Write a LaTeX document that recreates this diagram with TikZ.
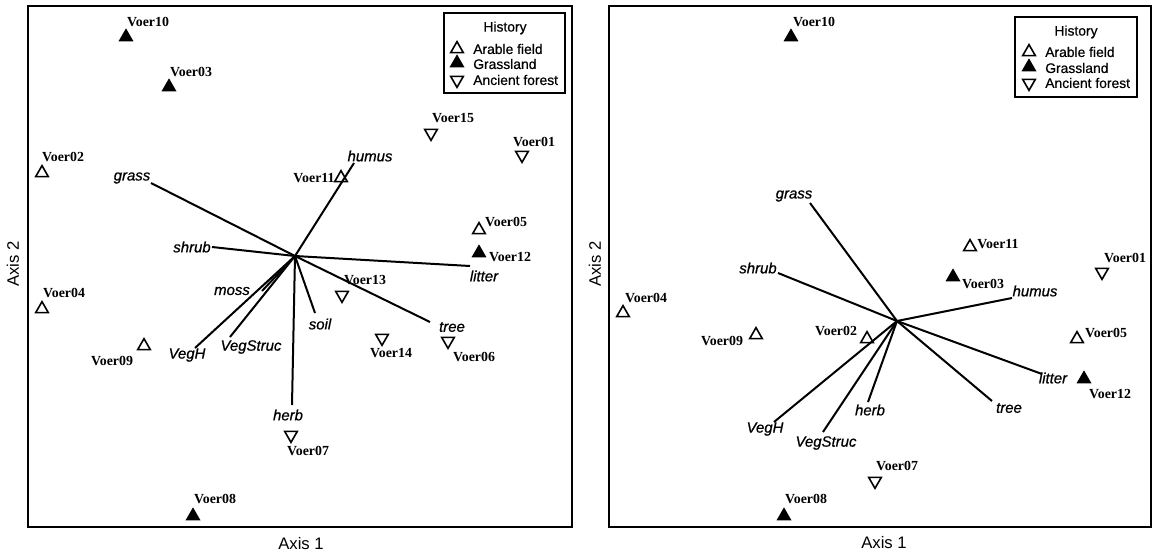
\documentclass[tikz,border=0pt]{standalone}
\usepackage{fontspec}
\setmainfont{Liberation Serif}
\setsansfont{Liberation Sans}
\newfontfamily\varfont[FakeBold=0.8]{Liberation Sans Italic}
\newfontfamily\legfont[FakeBold=0.5]{Liberation Sans}
\usetikzlibrary{shapes.geometric}
\tikzset{
 site/.style={font=\bfseries\fontsize{10.4}{12}\selectfont, inner sep=0pt},
 var/.style={font=\varfont\fontsize{11.2}{13}\selectfont, inner sep=0pt},
 leg/.style={font=\legfont\fontsize{10.4}{12}\selectfont, inner sep=0pt, anchor=west},
 legtitle/.style={font=\legfont\fontsize{10.4}{12}\selectfont, inner sep=0pt},
 axlab/.style={font=\sffamily\fontsize{12.5}{14}\selectfont, inner sep=0pt},
 tri/.style={regular polygon, regular polygon sides=3, inner sep=0pt},
 arable/.style={tri, draw, line width=1.2pt, minimum size=11pt},
 grassl/.style={tri, fill=black, minimum size=13pt},
 forest/.style={tri, draw, line width=1.2pt, minimum size=11pt, shape border rotate=180},
 vec/.style={line width=1.5pt},
 framebox/.style={line width=1.4pt},
 legbox/.style={line width=0.9pt},
}
\begin{document}
\begin{tikzpicture}[x=0.75pt, y=-0.75pt]
\useasboundingbox (0,0) rectangle (1154,557);
% ================= LEFT PANEL =================
\draw[framebox] (28,6) rectangle (572,527);
\node[axlab] (Lax1) at (301,544) {Axis 1};
\node[axlab, rotate=90] (Lax2) at (13,264) {Axis 2};
% legend
\draw[legbox] (444,13) rectangle (565,93);
\node[legtitle] (LlegT) at (505,28) {History};
\node[arable] (LlegA) at (457,49) {};
\node[leg] (LlegAt) at (473,49) {Arable field};
\node[grassl] (LlegG) at (457,63) {};
\node[leg] (LlegGt) at (473,64) {Grassland};
\node[forest] (LlegF) at (457,80) {};
\node[leg] (LlegFt) at (473,80) {Ancient forest};
% vectors
\coordinate (Lc) at (295,256);
\coordinate (Lhumus) at (354,163);
\coordinate (Lgrass) at (151,183);
\coordinate (Lshrub) at (212,247);
\coordinate (Llitter) at (470,266);
\coordinate (Ltree) at (430,322);
\coordinate (Lsoil) at (315,313);
\coordinate (Lherb) at (292,405);
\coordinate (LVegStruc) at (230,337);
\coordinate (LVegH) at (195,348);
\coordinate (Lmoss) at (262,291);
\foreach \v in {humus,grass,shrub,litter,tree,soil,herb,VegStruc,VegH,moss}
  \draw[vec] (Lc) -- (L\v);
\node[var] (LThumus) at (370,156) {humus};
\node[var] (LTgrass) at (132,178) {grass};
\node[var] (LTshrub) at (192,247) {shrub};
\node[var] (LTlitter) at (484,276) {litter};
\node[var] (LTtree) at (452,327) {tree};
\node[var] (LTsoil) at (320,324) {soil};
\node[var] (LTherb) at (288,415) {herb};
\node[var] (LTVegStruc) at (251,347) {VegStruc};
\node[var] (LTVegH) at (187,355) {VegH};
\node[var] (LTmoss) at (232,291) {moss};
% sites
\node[grassl] (L10) at (126,37) {};   \node[site] (L10t) at (148,22) {Voer10};
\node[grassl] (L03) at (169,87) {};   \node[site] (L03t) at (191,72) {Voer03};
\node[forest] (L15) at (431,133) {};  \node[site] (L15t) at (453,118) {Voer15};
\node[forest] (L01) at (522,155) {};  \node[site] (L01t) at (534,142) {Voer01};
\node[arable] (L02) at (42,173) {};   \node[site] (L02t) at (63,157) {Voer02};
\node[arable] (L11) at (341,178) {};  \node[site] (L11t) at (314,178) {Voer11};
\node[arable] (L05) at (479,230) {};  \node[site] (L05t) at (506,222) {Voer05};
\node[grassl] (L12) at (479,253) {};  \node[site] (L12t) at (510,257) {Voer12};
\node[forest] (L13) at (342,295) {};  \node[site] (L13t) at (365,280) {Voer13};
\node[arable] (L04) at (42,309) {};   \node[site] (L04t) at (64,293) {Voer04};
\node[forest] (L14) at (382,338) {};  \node[site] (L14t) at (391,353) {Voer14};
\node[forest] (L06) at (448,341) {};  \node[site] (L06t) at (474,357) {Voer06};
\node[arable] (L09) at (144,346) {};  \node[site] (L09t) at (112,361) {Voer09};
\node[forest] (L07) at (291,435) {};  \node[site] (L07t) at (308,451) {Voer07};
\node[grassl] (L08) at (193,516) {};  \node[site] (L08t) at (215,499) {Voer08};
% ================= RIGHT PANEL =================
\draw[framebox] (609,6) rectangle (1151,527);
\node[axlab] (Rax1) at (884,543) {Axis 1};
\node[axlab, rotate=90] (Rax2) at (595,264) {Axis 2};
\draw[legbox] (1015,17) rectangle (1137,97);
\node[legtitle] (RlegT) at (1076,32) {History};
\node[arable] (RlegA) at (1029,52) {};
\node[leg] (RlegAt) at (1045,52) {Arable field};
\node[grassl] (RlegG) at (1029,67) {};
\node[leg] (RlegGt) at (1045,68) {Grassland};
\node[forest] (RlegF) at (1029,83) {};
\node[leg] (RlegFt) at (1045,83) {Ancient forest};
\coordinate (Rc) at (897,321);
\coordinate (Rgrass) at (810,203);
\coordinate (Rshrub) at (778,273);
\coordinate (Rhumus) at (1012,298);
\coordinate (Rlitter) at (1042,374);
\coordinate (Rtree) at (992,401);
\coordinate (Rherb) at (868,402);
\coordinate (RVegStruc) at (823,432);
\coordinate (RVegH) at (774,422);
\foreach \v in {grass,shrub,humus,litter,tree,herb,VegStruc,VegH}
  \draw[vec] (Rc) -- (R\v);
\node[var] (RTgrass) at (794,196) {grass};
\node[var] (RTshrub) at (758,268) {shrub};
\node[var] (RThumus) at (1035,291) {humus};
\node[var] (RTlitter) at (1053,378) {litter};
\node[var] (RTtree) at (1009,408) {tree};
\node[var] (RTherb) at (870,410) {herb};
\node[var] (RTVegStruc) at (826,443) {VegStruc};
\node[var] (RTVegH) at (765,429) {VegH};
\node[grassl] (R10) at (791,37) {};   \node[site] (R10t) at (814,22) {Voer10};
\node[arable] (R11) at (970,247) {};  \node[site] (R11t) at (998,244) {Voer11};
\node[forest] (R01) at (1102,272) {}; \node[site] (R01t) at (1125,258) {Voer01};
\node[grassl] (R03) at (953,277) {};  \node[site] (R03t) at (983,284) {Voer03};
\node[arable] (R04) at (623,313) {};  \node[site] (R04t) at (646,298) {Voer04};
\node[arable] (R09) at (756,335) {};  \node[site] (R09t) at (722,341) {Voer09};
\node[arable] (R02) at (867,339) {};  \node[site] (R02t) at (836,331) {Voer02};
\node[arable] (R05) at (1077,339) {}; \node[site] (R05t) at (1106,333) {Voer05};
\node[grassl] (R12) at (1084,379) {}; \node[site] (R12t) at (1110,394) {Voer12};
\node[forest] (R07) at (875,481) {};  \node[site] (R07t) at (897,466) {Voer07};
\node[grassl] (R08) at (784,516) {};  \node[site] (R08t) at (806,499) {Voer08};
\end{tikzpicture}
\end{document}
